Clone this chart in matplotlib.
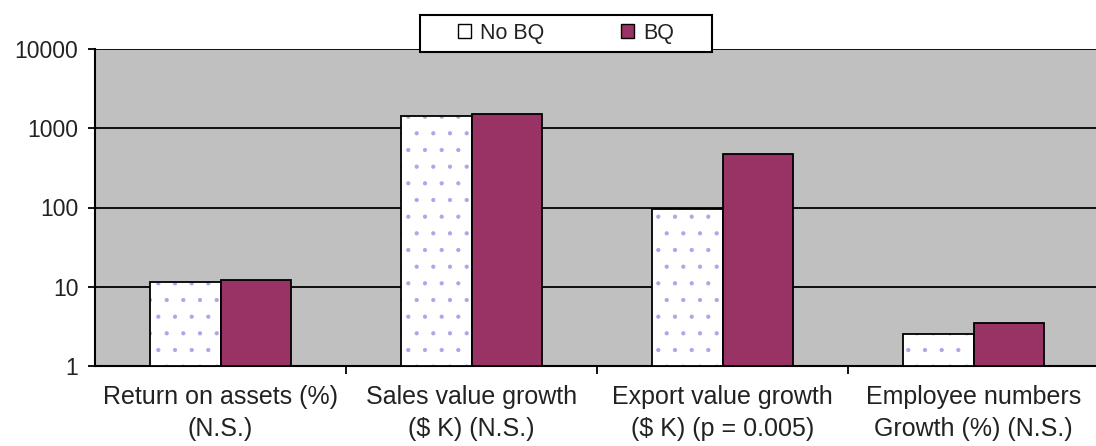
import numpy as np
import matplotlib
matplotlib.use("Agg")
import matplotlib.pyplot as plt
from matplotlib.patches import Patch, Rectangle

categories = ["Return on assets (%)\n(N.S.)",
              "Sales value growth\n($ K) (N.S.)",
              "Export value growth\n($ K) (p = 0.005)",
              "Employee numbers\nGrowth (%) (N.S.)"]
no_bq = [11.6, 1420, 97, 2.5]
bq = [12.2, 1500, 470, 3.5]
series_names = ["No BQ", "BQ"]

plt.rcParams["font.family"] = ["Liberation Sans", "DejaVu Sans"]
plt.rcParams["hatch.linewidth"] = 0.6

fig = plt.figure(figsize=(10.96, 4.46), dpi=100)
ax = fig.add_axes([95 / 1096, 1 - 366 / 446, 1004 / 1096, 317 / 446])
ax.set_facecolor("#c0c0c0")

x = np.arange(len(categories))
w = 0.28
purple = "#993366"
h1 = np.array(no_bq) - 1
h2 = np.array(bq) - 1

# dotted white bars: hatch layer then outline
ax.bar(x - w, h1, w, bottom=1, align="edge", color="white",
       edgecolor="#a8a8e8", hatch=".", linewidth=0, zorder=3)
ax.bar(x - w, h1, w, bottom=1, align="edge", color="none",
       edgecolor="black", linewidth=1.3, zorder=4)
ax.bar(x, h2, w, bottom=1, align="edge", color=purple,
       edgecolor="black", linewidth=1.3, zorder=4)

ax.set_yscale("log")
ax.set_ylim(1, 10000)
ax.set_xlim(-0.5, 3.5)
ax.set_yticks([1, 10, 100, 1000, 10000])
ax.set_yticklabels(["1", "10", "100", "1000", "10000"], fontsize=16.5,
                   color="#222222")
ax.minorticks_off()
ax.yaxis.grid(True, color="black", linewidth=1.3, zorder=1)
ax.set_axisbelow(True)

ax.set_xticks(x)
ax.set_xticklabels(categories, fontsize=18, linespacing=1.4, color="#222222")
ax.tick_params(axis="x", length=0, pad=14)
ax.set_xticks([0.5, 1.5, 2.5], minor=True)
ax.tick_params(axis="x", which="minor", length=6, width=1.3, color="black")
ax.tick_params(axis="y", length=5, width=1.3, pad=7)

for s in ["top", "right"]:
    ax.spines[s].set_visible(False)
ax.spines["left"].set_linewidth(1.5)
ax.spines["bottom"].set_linewidth(1.5)

# legend box drawn separately so its size matches the original
fig.patches.append(Rectangle((420 / 1096, 1 - 52 / 446), 292 / 1096, 37 / 446,
                             transform=fig.transFigure, facecolor="white",
                             edgecolor="black", linewidth=1.5, zorder=5))
handles = [Patch(facecolor="white", edgecolor="black", linewidth=1),
           Patch(facecolor=purple, edgecolor="black", linewidth=1)]
leg = fig.legend(handles, series_names, loc="center",
                 bbox_to_anchor=(566 / 1096, 1 - 33 / 446), ncol=2,
                 fontsize=15.5, frameon=False, handlelength=0.6,
                 handleheight=0.6, handletextpad=0.4, columnspacing=3.6,
                 labelcolor="#222222")
leg.set_zorder(6)

fig.savefig("out.png", dpi=100)
